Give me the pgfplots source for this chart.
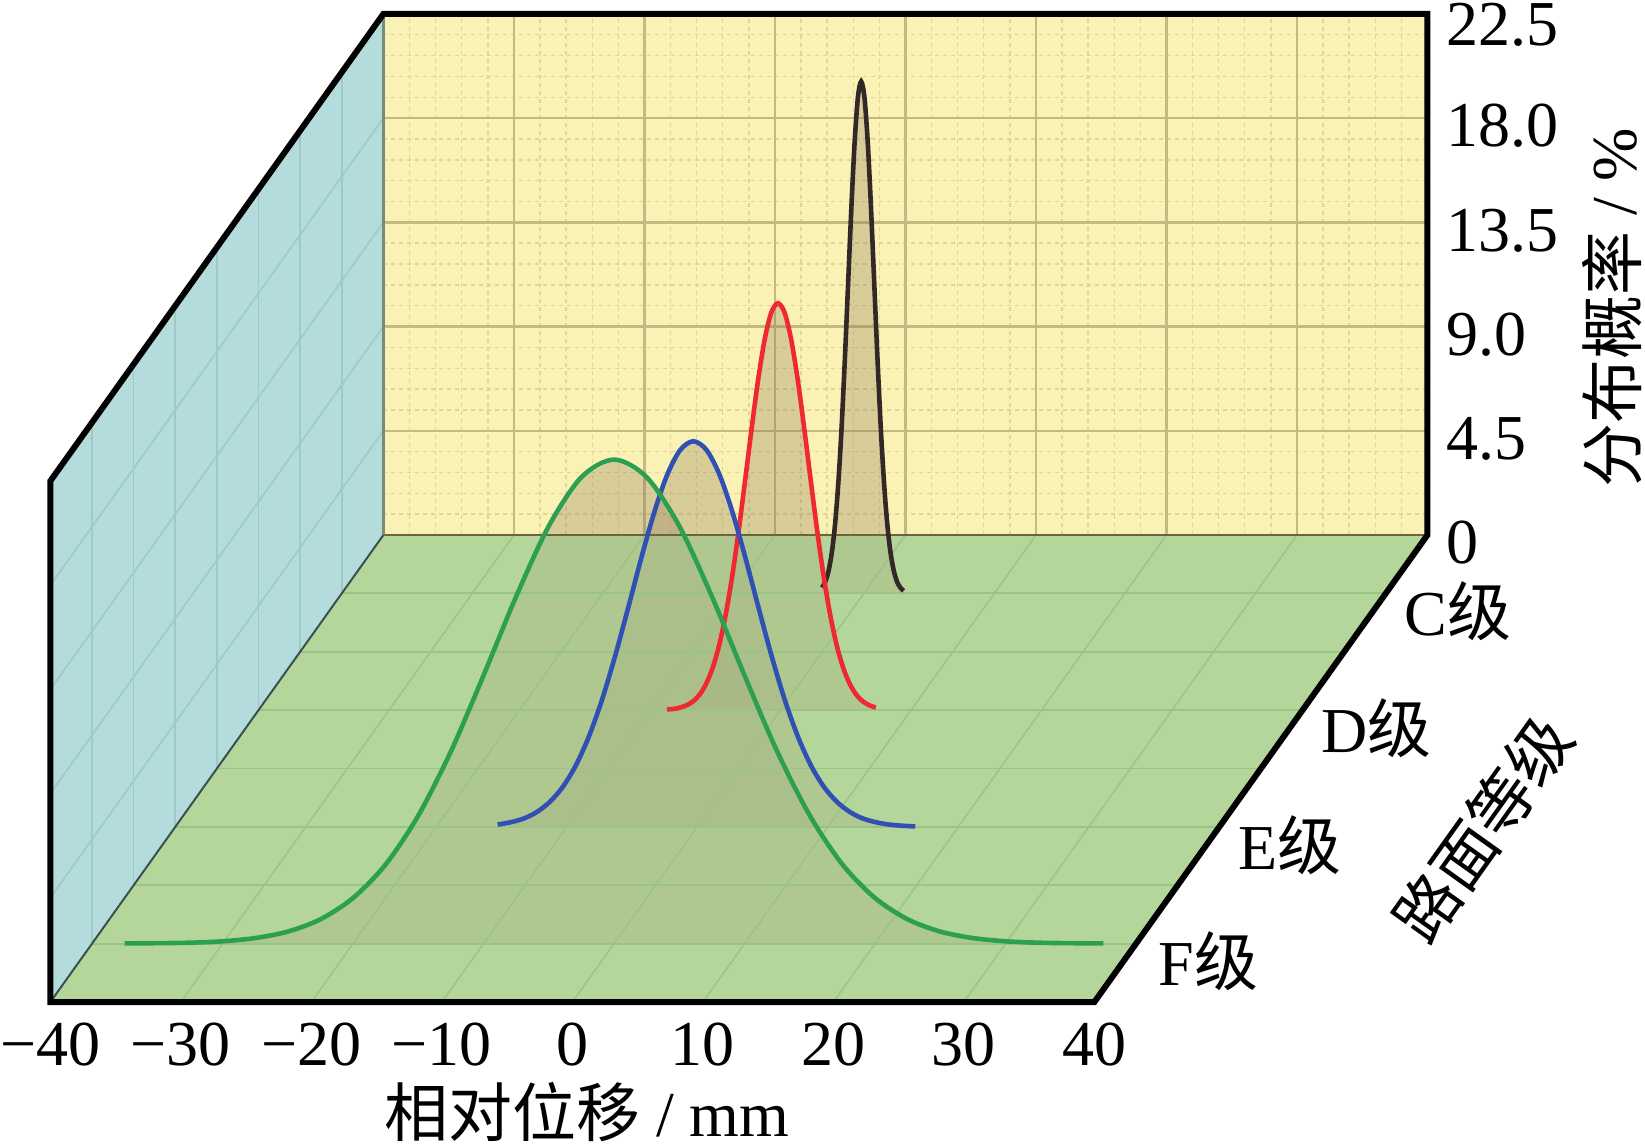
\documentclass[border=0pt]{standalone}
\usepackage{pgfplots}
\pgfplotsset{compat=1.18}
\usepackage{fontspec}
\setmainfont{Liberation Serif}
\newfontfamily\cjk{Noto Sans CJK SC}
\definecolor{wallY}{RGB}{249,242,180}
\definecolor{wallC}{RGB}{180,220,220}
\definecolor{floorG}{RGB}{181,214,154}
\definecolor{gridY}{RGB}{196,184,132}
\definecolor{gridYm}{RGB}{224,212,152}
\definecolor{gridC}{RGB}{158,202,198}
\definecolor{gridG}{RGB}{152,196,134}
\definecolor{cF}{RGB}{44,160,80}
\definecolor{cE}{RGB}{48,80,180}
\definecolor{cD}{RGB}{240,40,50}
\definecolor{cC}{RGB}{50,40,40}
\definecolor{fillT}{RGB}{140,120,90}
\tikzset{lab/.style={font=\fontsize{16}{19}\selectfont, inner sep=0pt}}

\begin{document}
\begin{tikzpicture}
\begin{axis}[
  x={(3.2625pt,0pt)}, y={(20.8125pt,29.1875pt)}, z={(0pt,5.79pt)},
  xmin=-40,xmax=40,ymin=0,ymax=4,zmin=0,zmax=22.5,
  hide axis, clip=false,
]
% ---- walls ----
\fill[wallY] (axis cs:-40,4,0) -- (axis cs:40,4,0) -- (axis cs:40,4,22.5) -- (axis cs:-40,4,22.5) -- cycle;
\fill[wallC] (axis cs:-40,0,0) -- (axis cs:-40,4,0) -- (axis cs:-40,4,22.5) -- (axis cs:-40,0,22.5) -- cycle;
\fill[floorG] (axis cs:-40,0,0) -- (axis cs:40,0,0) -- (axis cs:40,4,0) -- (axis cs:-40,4,0) -- cycle;
% back wall minor grid
\pgfplotsinvokeforeach{-38,-36,...,38}{\draw[gridYm, line width=0.35pt, dash pattern=on 1pt off 1pt] (axis cs:#1,4,0) -- (axis cs:#1,4,22.5);}
\pgfplotsinvokeforeach{0.9,1.8,...,21.7}{\draw[gridYm, line width=0.35pt, dash pattern=on 1pt off 1pt] (axis cs:-40,4,#1) -- (axis cs:40,4,#1);}
% back wall major grid
\pgfplotsinvokeforeach{-30,-20,...,30}{\draw[gridY, line width=0.6pt] (axis cs:#1,4,0) -- (axis cs:#1,4,22.5);}
\pgfplotsinvokeforeach{4.5,9,13.5,18}{\draw[gridY, line width=0.6pt] (axis cs:-40,4,#1) -- (axis cs:40,4,#1);}
% left wall grid
\pgfplotsinvokeforeach{0.5,1,...,3.5}{\draw[gridC, line width=0.4pt] (axis cs:-40,#1,0) -- (axis cs:-40,#1,22.5);}
\pgfplotsinvokeforeach{4.5,9,13.5,18}{\draw[gridC, line width=0.4pt] (axis cs:-40,0,#1) -- (axis cs:-40,4,#1);}

% ---- filled areas under the curves ----
\addplot3[draw=none, fill=fillT, fill opacity=0.3] coordinates {
(-3.2,3.5,0) (-3.2,3.5,0.25) (-2.95,3.5,0.50) (-2.7,3.5,0.97) (-2.45,3.5,1.76) (-2.2,3.5,2.99)
(-1.95,3.5,4.78) (-1.7,3.5,7.17) (-1.45,3.5,10.12) (-1.2,3.5,13.40) (-0.95,3.5,16.68)
(-0.7,3.5,19.50) (-0.45,3.5,21.42) (-0.2,3.5,22.10) (0.05,3.5,21.42) (0.3,3.5,19.50)
(0.55,3.5,16.68) (0.8,3.5,13.40) (1.05,3.5,10.12) (1.3,3.5,7.17) (1.55,3.5,4.78)
(1.8,3.5,2.99) (2.05,3.5,1.76) (2.3,3.5,0.97) (2.55,3.5,0.50) (2.8,3.5,0.25) (3.05,3.5,0.11) (3.05,3.5,0)};
\addplot3[draw=none, fill=fillT, fill opacity=0.3] coordinates {
(-8.7,2.5,0) (-8.7,2.5,0.03) (-8.2,2.5,0.05) (-7.7,2.5,0.11) (-7.2,2.5,0.21) (-6.7,2.5,0.38) (-6.2,2.5,0.67)
(-5.7,2.5,1.14) (-5.2,2.5,1.83) (-4.7,2.5,2.81) (-4.2,2.5,4.13) (-3.7,2.5,5.80) (-3.2,2.5,7.78)
(-2.7,2.5,9.98) (-2.2,2.5,12.23) (-1.7,2.5,14.33) (-1.2,2.5,16.05) (-0.7,2.5,17.18) (-0.2,2.5,17.57)
(0.3,2.5,17.18) (0.8,2.5,16.05) (1.3,2.5,14.33) (1.8,2.5,12.23) (2.3,2.5,9.98) (2.8,2.5,7.78)
(3.3,2.5,5.80) (3.8,2.5,4.13) (4.3,2.5,2.81) (4.8,2.5,1.83) (5.3,2.5,1.14) (5.8,2.5,0.67)
(6.3,2.5,0.38) (6.8,2.5,0.21) (7.3,2.5,0.11) (7.3,2.5,0)};
\addplot3[draw=none, fill=fillT, fill opacity=0.3] coordinates {
(-15.3,1.5,0) (-15.3,1.5,0.10) (-14.3,1.5,0.20) (-13.3,1.5,0.36) (-12.3,1.5,0.64) (-11.3,1.5,1.08)
(-10.3,1.5,1.73) (-9.3,1.5,2.66) (-8.3,1.5,3.91) (-7.3,1.5,5.49) (-6.3,1.5,7.37) (-5.3,1.5,9.45)
(-4.3,1.5,11.59) (-3.3,1.5,13.58) (-2.3,1.5,15.21) (-1.3,1.5,16.28) (-0.3,1.5,16.65) (0.7,1.5,16.28)
(1.7,1.5,15.21) (2.7,1.5,13.58) (3.7,1.5,11.59) (4.7,1.5,9.45) (5.7,1.5,7.37) (6.7,1.5,5.49)
(7.7,1.5,3.91) (8.7,1.5,2.66) (9.7,1.5,1.73) (10.7,1.5,1.08) (11.7,1.5,0.64) (12.7,1.5,0.36)
(13.7,1.5,0.20) (14.7,1.5,0.10) (15.7,1.5,0.05) (16.7,1.5,0.02) (16.7,1.5,0)};
\addplot3[draw=none, fill=fillT, fill opacity=0.3] coordinates {
(-37.5,0.5,0) (-35,0.5,0.02) (-32.5,0.5,0.04) (-30,0.5,0.10) (-27.5,0.5,0.24) (-25,0.5,0.52)
(-22.5,0.5,1.05) (-20,0.5,1.97) (-17.5,0.5,3.42) (-15,0.5,5.53) (-12.5,0.5,8.30) (-10,0.5,11.58)
(-7.5,0.5,14.99) (-5,0.5,18.03) (-2.5,0.5,20.14) (0,0.5,20.90) (2.5,0.5,20.14) (5,0.5,18.03)
(7.5,0.5,14.99) (10,0.5,11.58) (12.5,0.5,8.30) (15,0.5,5.53) (17.5,0.5,3.42) (20,0.5,1.97)
(22.5,0.5,1.05) (25,0.5,0.52) (27.5,0.5,0.24) (30,0.5,0.10) (32.5,0.5,0.04) (35,0.5,0.02) (37.5,0.5,0)};

% translucent floor tint over the curtains
\fill[floorG, opacity=0.55] (axis cs:-40,0,0) -- (axis cs:40,0,0) -- (axis cs:40,4,0) -- (axis cs:-40,4,0) -- cycle;
% floor grid
\pgfplotsinvokeforeach{0.5,1,...,3.5}{\draw[gridG, line width=0.45pt] (axis cs:-40,#1,0) -- (axis cs:40,#1,0);}
\pgfplotsinvokeforeach{-30,-20,...,30}{\draw[gridG, line width=0.35pt] (axis cs:#1,0,0) -- (axis cs:#1,4,0);}
% thin inner edges
\draw[color={rgb,255:red,110;green,100;blue,60}, line width=0.6pt] (axis cs:-40,4,0) -- (axis cs:40,4,0);
\draw[color={rgb,255:red,120;green,140;blue,120}, line width=0.6pt] (axis cs:-40,4,0) -- (axis cs:-40,4,22.5);
\draw[color={rgb,255:red,60;green,80;blue,80}, line width=0.5pt] (axis cs:-40,0,0) -- (axis cs:-40,4,0);

% ---- curves ----
\addplot3[cC, line width=1.15pt, smooth] coordinates {
(-3.2,3.5,0.25) (-2.95,3.5,0.50) (-2.7,3.5,0.97) (-2.45,3.5,1.76) (-2.2,3.5,2.99)
(-1.95,3.5,4.78) (-1.7,3.5,7.17) (-1.45,3.5,10.12) (-1.2,3.5,13.40) (-0.95,3.5,16.68)
(-0.7,3.5,19.50) (-0.45,3.5,21.42) (-0.2,3.5,22.10) (0.05,3.5,21.42) (0.3,3.5,19.50)
(0.55,3.5,16.68) (0.8,3.5,13.40) (1.05,3.5,10.12) (1.3,3.5,7.17) (1.55,3.5,4.78)
(1.8,3.5,2.99) (2.05,3.5,1.76) (2.3,3.5,0.97) (2.55,3.5,0.50) (2.8,3.5,0.25) (3.05,3.5,0.11)};
\addplot3[cD, line width=1.15pt, smooth] coordinates {
(-8.7,2.5,0.03) (-8.2,2.5,0.05) (-7.7,2.5,0.11) (-7.2,2.5,0.21) (-6.7,2.5,0.38) (-6.2,2.5,0.67)
(-5.7,2.5,1.14) (-5.2,2.5,1.83) (-4.7,2.5,2.81) (-4.2,2.5,4.13) (-3.7,2.5,5.80) (-3.2,2.5,7.78)
(-2.7,2.5,9.98) (-2.2,2.5,12.23) (-1.7,2.5,14.33) (-1.2,2.5,16.05) (-0.7,2.5,17.18) (-0.2,2.5,17.57)
(0.3,2.5,17.18) (0.8,2.5,16.05) (1.3,2.5,14.33) (1.8,2.5,12.23) (2.3,2.5,9.98) (2.8,2.5,7.78)
(3.3,2.5,5.80) (3.8,2.5,4.13) (4.3,2.5,2.81) (4.8,2.5,1.83) (5.3,2.5,1.14) (5.8,2.5,0.67)
(6.3,2.5,0.38) (6.8,2.5,0.21) (7.3,2.5,0.11)};
\addplot3[cE, line width=1.15pt, smooth] coordinates {
(-15.3,1.5,0.10) (-14.3,1.5,0.20) (-13.3,1.5,0.36) (-12.3,1.5,0.64) (-11.3,1.5,1.08)
(-10.3,1.5,1.73) (-9.3,1.5,2.66) (-8.3,1.5,3.91) (-7.3,1.5,5.49) (-6.3,1.5,7.37) (-5.3,1.5,9.45)
(-4.3,1.5,11.59) (-3.3,1.5,13.58) (-2.3,1.5,15.21) (-1.3,1.5,16.28) (-0.3,1.5,16.65) (0.7,1.5,16.28)
(1.7,1.5,15.21) (2.7,1.5,13.58) (3.7,1.5,11.59) (4.7,1.5,9.45) (5.7,1.5,7.37) (6.7,1.5,5.49)
(7.7,1.5,3.91) (8.7,1.5,2.66) (9.7,1.5,1.73) (10.7,1.5,1.08) (11.7,1.5,0.64) (12.7,1.5,0.36)
(13.7,1.5,0.20) (14.7,1.5,0.10) (15.7,1.5,0.05) (16.7,1.5,0.02)};
\addplot3[cF, line width=1.15pt, smooth] coordinates {
(-37.5,0.5,0.01) (-35,0.5,0.02) (-32.5,0.5,0.04) (-30,0.5,0.10) (-27.5,0.5,0.24) (-25,0.5,0.52)
(-22.5,0.5,1.05) (-20,0.5,1.97) (-17.5,0.5,3.42) (-15,0.5,5.53) (-12.5,0.5,8.30) (-10,0.5,11.58)
(-7.5,0.5,14.99) (-5,0.5,18.03) (-2.5,0.5,20.14) (0,0.5,20.90) (2.5,0.5,20.14) (5,0.5,18.03)
(7.5,0.5,14.99) (10,0.5,11.58) (12.5,0.5,8.30) (15,0.5,5.53) (17.5,0.5,3.42) (20,0.5,1.97)
(22.5,0.5,1.05) (25,0.5,0.52) (27.5,0.5,0.24) (30,0.5,0.10) (32.5,0.5,0.04) (35,0.5,0.02) (37.5,0.5,0.01)};

% ---- outer frame ----
\draw[black, line width=1.5pt, line join=miter] (axis cs:-40,0,0) -- (axis cs:-40,0,22.5) -- (axis cs:-40,4,22.5) -- (axis cs:40,4,22.5) -- (axis cs:40,4,0) -- (axis cs:40,0,0) -- cycle;

% ---- x tick labels ----
\node[lab, anchor=north, yshift=-5pt] at (axis cs:-40,0,0) {−40};
\node[lab, anchor=north, yshift=-5pt] at (axis cs:-30,0,0) {−30};
\node[lab, anchor=north, yshift=-5pt] at (axis cs:-20,0,0) {−20};
\node[lab, anchor=north, yshift=-5pt] at (axis cs:-10,0,0) {−10};
\node[lab, anchor=north, yshift=-5pt] at (axis cs:0,0,0) {0};
\node[lab, anchor=north, yshift=-5pt] at (axis cs:10,0,0) {10};
\node[lab, anchor=north, yshift=-5pt] at (axis cs:20,0,0) {20};
\node[lab, anchor=north, yshift=-5pt] at (axis cs:30,0,0) {30};
\node[lab, anchor=north, yshift=-5pt] at (axis cs:40,0,0) {40};
\node[lab, anchor=center, yshift=-27.5pt] at (axis cs:1.1,0,0) {{\cjk 相对位移} / mm};

% ---- z tick labels ----
\node[lab, anchor=west, xshift=4.5pt, yshift=-2pt] at (axis cs:40,4,0) {0};
\node[lab, anchor=west, xshift=4.5pt, yshift=-2pt] at (axis cs:40,4,4.5) {4.5};
\node[lab, anchor=west, xshift=4.5pt, yshift=-2pt] at (axis cs:40,4,9) {9.0};
\node[lab, anchor=west, xshift=4.5pt, yshift=-2pt] at (axis cs:40,4,13.5) {13.5};
\node[lab, anchor=west, xshift=4.5pt, yshift=-2pt] at (axis cs:40,4,18) {18.0};
\node[lab, anchor=west, xshift=4.5pt, yshift=-2.8pt] at (axis cs:40,4,22.5) {22.5};
\node[lab, rotate=90, anchor=center] at ([shift={(46.2pt,-8.4pt)}]axis cs:40,4,11.25) {{\cjk 分布概率} / \%};

% ---- depth labels ----
\node[lab, anchor=west, xshift=4.5pt, yshift=-4.5pt] at (axis cs:40,3.5,0) {C{\cjk 级}};
\node[lab, anchor=west, xshift=4.5pt, yshift=-4.5pt] at (axis cs:40,2.5,0) {D{\cjk 级}};
\node[lab, anchor=west, xshift=4.5pt, yshift=-4.5pt] at (axis cs:40,1.5,0) {E{\cjk 级}};
\node[lab, anchor=west, xshift=5.5pt, yshift=-4.5pt] at (axis cs:40,0.5,0) {F{\cjk 级}};
\node[lab, rotate=54.5, anchor=center] at ([shift={(55.4pt,-15.1pt)}]axis cs:40,2,0) {\cjk 路面等级};

\coordinate (FL) at (axis cs:-40,0,0);
\end{axis}
\pgfresetboundingbox
\path[use as bounding box] (FL) ++(-12.6pt,-35.75pt) rectangle ++(411.25pt,286.25pt);
\end{tikzpicture}
\end{document}
